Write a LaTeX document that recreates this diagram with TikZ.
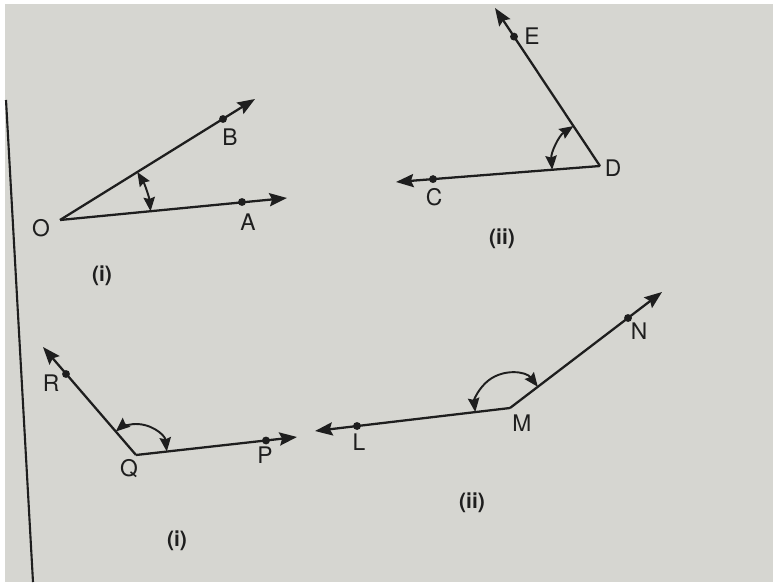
\documentclass[tikz,border=0pt]{standalone}
\usepackage{fontspec}
\setmainfont{TeX Gyre Heros}
\usetikzlibrary{arrows.meta}
\definecolor{paper}{RGB}{214,214,209}
\definecolor{ink}{RGB}{30,30,30}
\tikzset{
 ray/.style={ink, line width=1.3pt, -{Stealth[length=10pt,width=7.5pt,inset=1.5pt]}},
 angarc/.style={ink, line width=1.1pt, {Stealth[length=8pt,width=6.5pt,inset=1pt]}-{Stealth[length=8pt,width=6.5pt,inset=1pt]}},
 pt/.style={circle, fill=ink, inner sep=0pt, minimum size=4.5pt},
 lbl/.style={font=\fontsize{13}{15}\selectfont, text=ink, inner sep=0pt},
 figcap/.style={font=\bfseries\fontsize{12}{14}\selectfont, text=ink, inner sep=0pt},
}
\begin{document}
\begin{tikzpicture}[x=0.02cm,y=0.02cm]
\fill[white] (0,0) rectangle (773,582);
\fill[paper] (5,0) rectangle (773,578);
\useasboundingbox (0,0) rectangle (773,582);
% page margin line
\coordinate (mtop) at (6,482);
\coordinate (mbot) at (33,0);
\draw[ink, line width=1.2pt] (mtop) -- (mbot);

% ---- top (i): angle AOB
\coordinate (O) at (60,362);
\coordinate (Atip) at (287,384);
\coordinate (Btip) at (255,483);
\node[pt] (A) at (242,380) {};
\node[pt] (B) at (223,463) {};
\draw[ray] (O) -- (Atip);
\draw[ray] (O) -- (Btip);
\draw[angarc] ([shift={(5.5:1.82cm)}]O) arc[start angle=5.5, end angle=31.8, radius=1.82cm];
\node[lbl] (lO) at (41,354) {O};
\node[lbl] (lA) at (248,360) {A};
\node[lbl] (lB) at (230,445) {B};
\node[figcap] (c1) at (102,306) {(i)};

% ---- top (ii): angle CDE
\coordinate (D) at (600,416);
\coordinate (Ctip) at (396,400);
\coordinate (Etip) at (495,574);
\node[pt] (C) at (433,402.9) {};
\node[pt] (E) at (514,545.4) {};
\draw[ray] (D) -- (Ctip);
\draw[ray] (D) -- (Etip);
\draw[angarc] ([shift={(184.5:0.96cm)}]D) arc[start angle=184.5, end angle=123.6, radius=0.96cm];
\node[lbl] (lD) at (613,414) {D};
\node[lbl] (lC) at (434,385) {C};
\node[lbl] (lE) at (532,546) {E};
\node[figcap] (c2) at (502,343) {(ii)};

% ---- bottom (i): angle PQR
\coordinate (Q) at (136,127);
\coordinate (Ptip) at (297,145);
\coordinate (Rtip) at (43,235);
\node[pt] (P) at (266,141.5) {};
\node[pt] (R) at (66,208) {};
\draw[ray] (Q) -- (Ptip);
\draw[ray] (Q) -- (Rtip);
\draw[angarc] ([shift={(6.4:0.62cm)}]Q) arc[start angle=6.4, end angle=130.7, radius=0.62cm];
\node[lbl] (lQ) at (129,113) {Q};
\node[lbl] (lP) at (265,127) {P};
\node[lbl] (lR) at (51,199) {R};
\node[figcap] (c3) at (177,41) {(i)};

% ---- bottom (ii): angle LMN
\coordinate (M) at (510,174);
\coordinate (Ltip) at (315,151);
\coordinate (Ntip) at (662,290);
\node[pt] (L) at (357,156) {};
\node[pt] (N) at (628,264) {};
\draw[ray] (M) -- (Ltip);
\draw[ray] (M) -- (Ntip);
\draw[angarc] ([shift={(37.3:0.7cm)}]M) arc[start angle=37.3, end angle=186.7, radius=0.7cm];
\node[lbl] (lM) at (522,159) {M};
\node[lbl] (lL) at (359,140) {L};
\node[lbl] (lN) at (639,251) {N};
\node[figcap] (c4) at (472,79) {(ii)};
\end{tikzpicture}
\end{document}
